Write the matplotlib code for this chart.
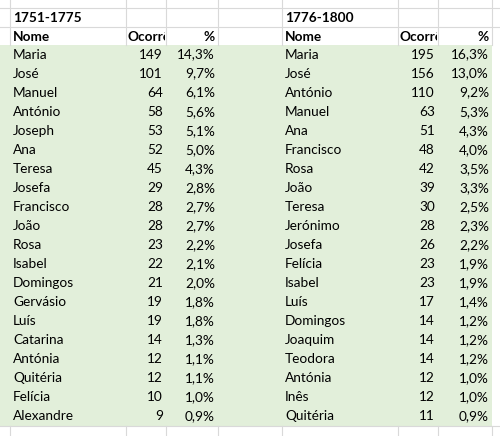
import matplotlib
matplotlib.use("Agg")
import matplotlib.pyplot as plt
from matplotlib.patches import Rectangle

titles = ["1751-1775", "1776-1800"]
names1 = ["Maria","José","Manuel","António","Joseph","Ana","Teresa","Josefa","Francisco","João",
          "Rosa","Isabel","Domingos","Gervásio","Luís","Catarina","Antónia","Quitéria","Felícia","Alexandre"]
counts1 = [149,101,64,58,53,52,45,29,28,28,23,22,21,19,19,14,12,12,10,9]
pct1 = ["14,3%","9,7%","6,1%","5,6%","5,1%","5,0%","4,3%","2,8%","2,7%","2,7%",
        "2,2%","2,1%","2,0%","1,8%","1,8%","1,3%","1,1%","1,1%","1,0%","0,9%"]
names2 = ["Maria","José","António","Manuel","Ana","Francisco","Rosa","João","Teresa","Jerónimo",
          "Josefa","Felícia","Isabel","Luís","Domingos","Joaquim","Teodora","Antónia","Inês","Quitéria"]
counts2 = [195,156,110,63,51,48,42,39,30,28,26,23,23,17,14,14,14,12,12,11]
pct2 = ["16,3%","13,0%","9,2%","5,3%","4,3%","4,0%","3,5%","3,3%","2,5%","2,3%",
        "2,2%","1,9%","1,9%","1,4%","1,2%","1,2%","1,2%","1,0%","1,0%","0,9%"]
headers = ["Nome", "Ocorrências", "%"]

W, H = 500, 436
plt.rcParams['font.family'] = ['Lato', 'DejaVu Sans']
fig = plt.figure(figsize=(5, 4.36), dpi=100)
ax = fig.add_axes([0, 0, 1, 1])
ax.set_xlim(0, W); ax.set_ylim(H, 0); ax.axis("off")

top_data = 45.0
rh = 19.05
nrows = len(names1)
bottom = top_data + rh * nrows
grid = "#d9d9d9"
green = "#e2efda"

col_lines = [10, 126, 166, 218, 282, 398, 438, 492]
for y in [8, 27]:
    ax.plot([0, W], [y, y], color=grid, lw=0.8)
for x in col_lines:
    ax.plot([x, x], [0, top_data], color=grid, lw=0.8)
    ax.plot([x, x], [bottom, H], color=grid, lw=0.8)
ax.plot([0, W], [bottom, bottom], color=grid, lw=0.8)

ax.add_patch(Rectangle((0, top_data), 492, bottom - top_data, color=green, lw=0))

fs = 9.8
def block(x0, cend, pend, title, names, counts, pcts, clipx0, clipx1):
    ax.text(x0, 18, title, fontsize=fs, fontweight="bold", va="center", ha="left")
    ax.text(x0, 37, headers[0], fontsize=fs, fontweight="bold", va="center", ha="left")
    t = ax.text(clipx0 + 2, 37, headers[1], fontsize=fs, fontweight="bold", va="center", ha="left")
    clip = Rectangle((clipx0, 27), clipx1 - clipx0 - 1, 18, transform=ax.transData)
    t.set_clip_on(True)
    t.set_clip_path(clip)
    ax.text(pend, 37, headers[2], fontsize=fs, fontweight="bold", va="center", ha="right")
    for i, (n, c, p) in enumerate(zip(names, counts, pcts)):
        y = top_data + rh * (i + 0.5)
        ax.text(x0, y, n, fontsize=fs, va="center", ha="left")
        ax.text(cend, y, str(c), fontsize=fs, va="center", ha="right")
        ax.text(pend, y, p, fontsize=fs, va="center", ha="right")

block(13, 163, 215, titles[0], names1, counts1, pct1, 126, 166)
block(285, 435, 489, titles[1], names2, counts2, pct2, 398, 438)

fig.savefig("out.png", dpi=100)
